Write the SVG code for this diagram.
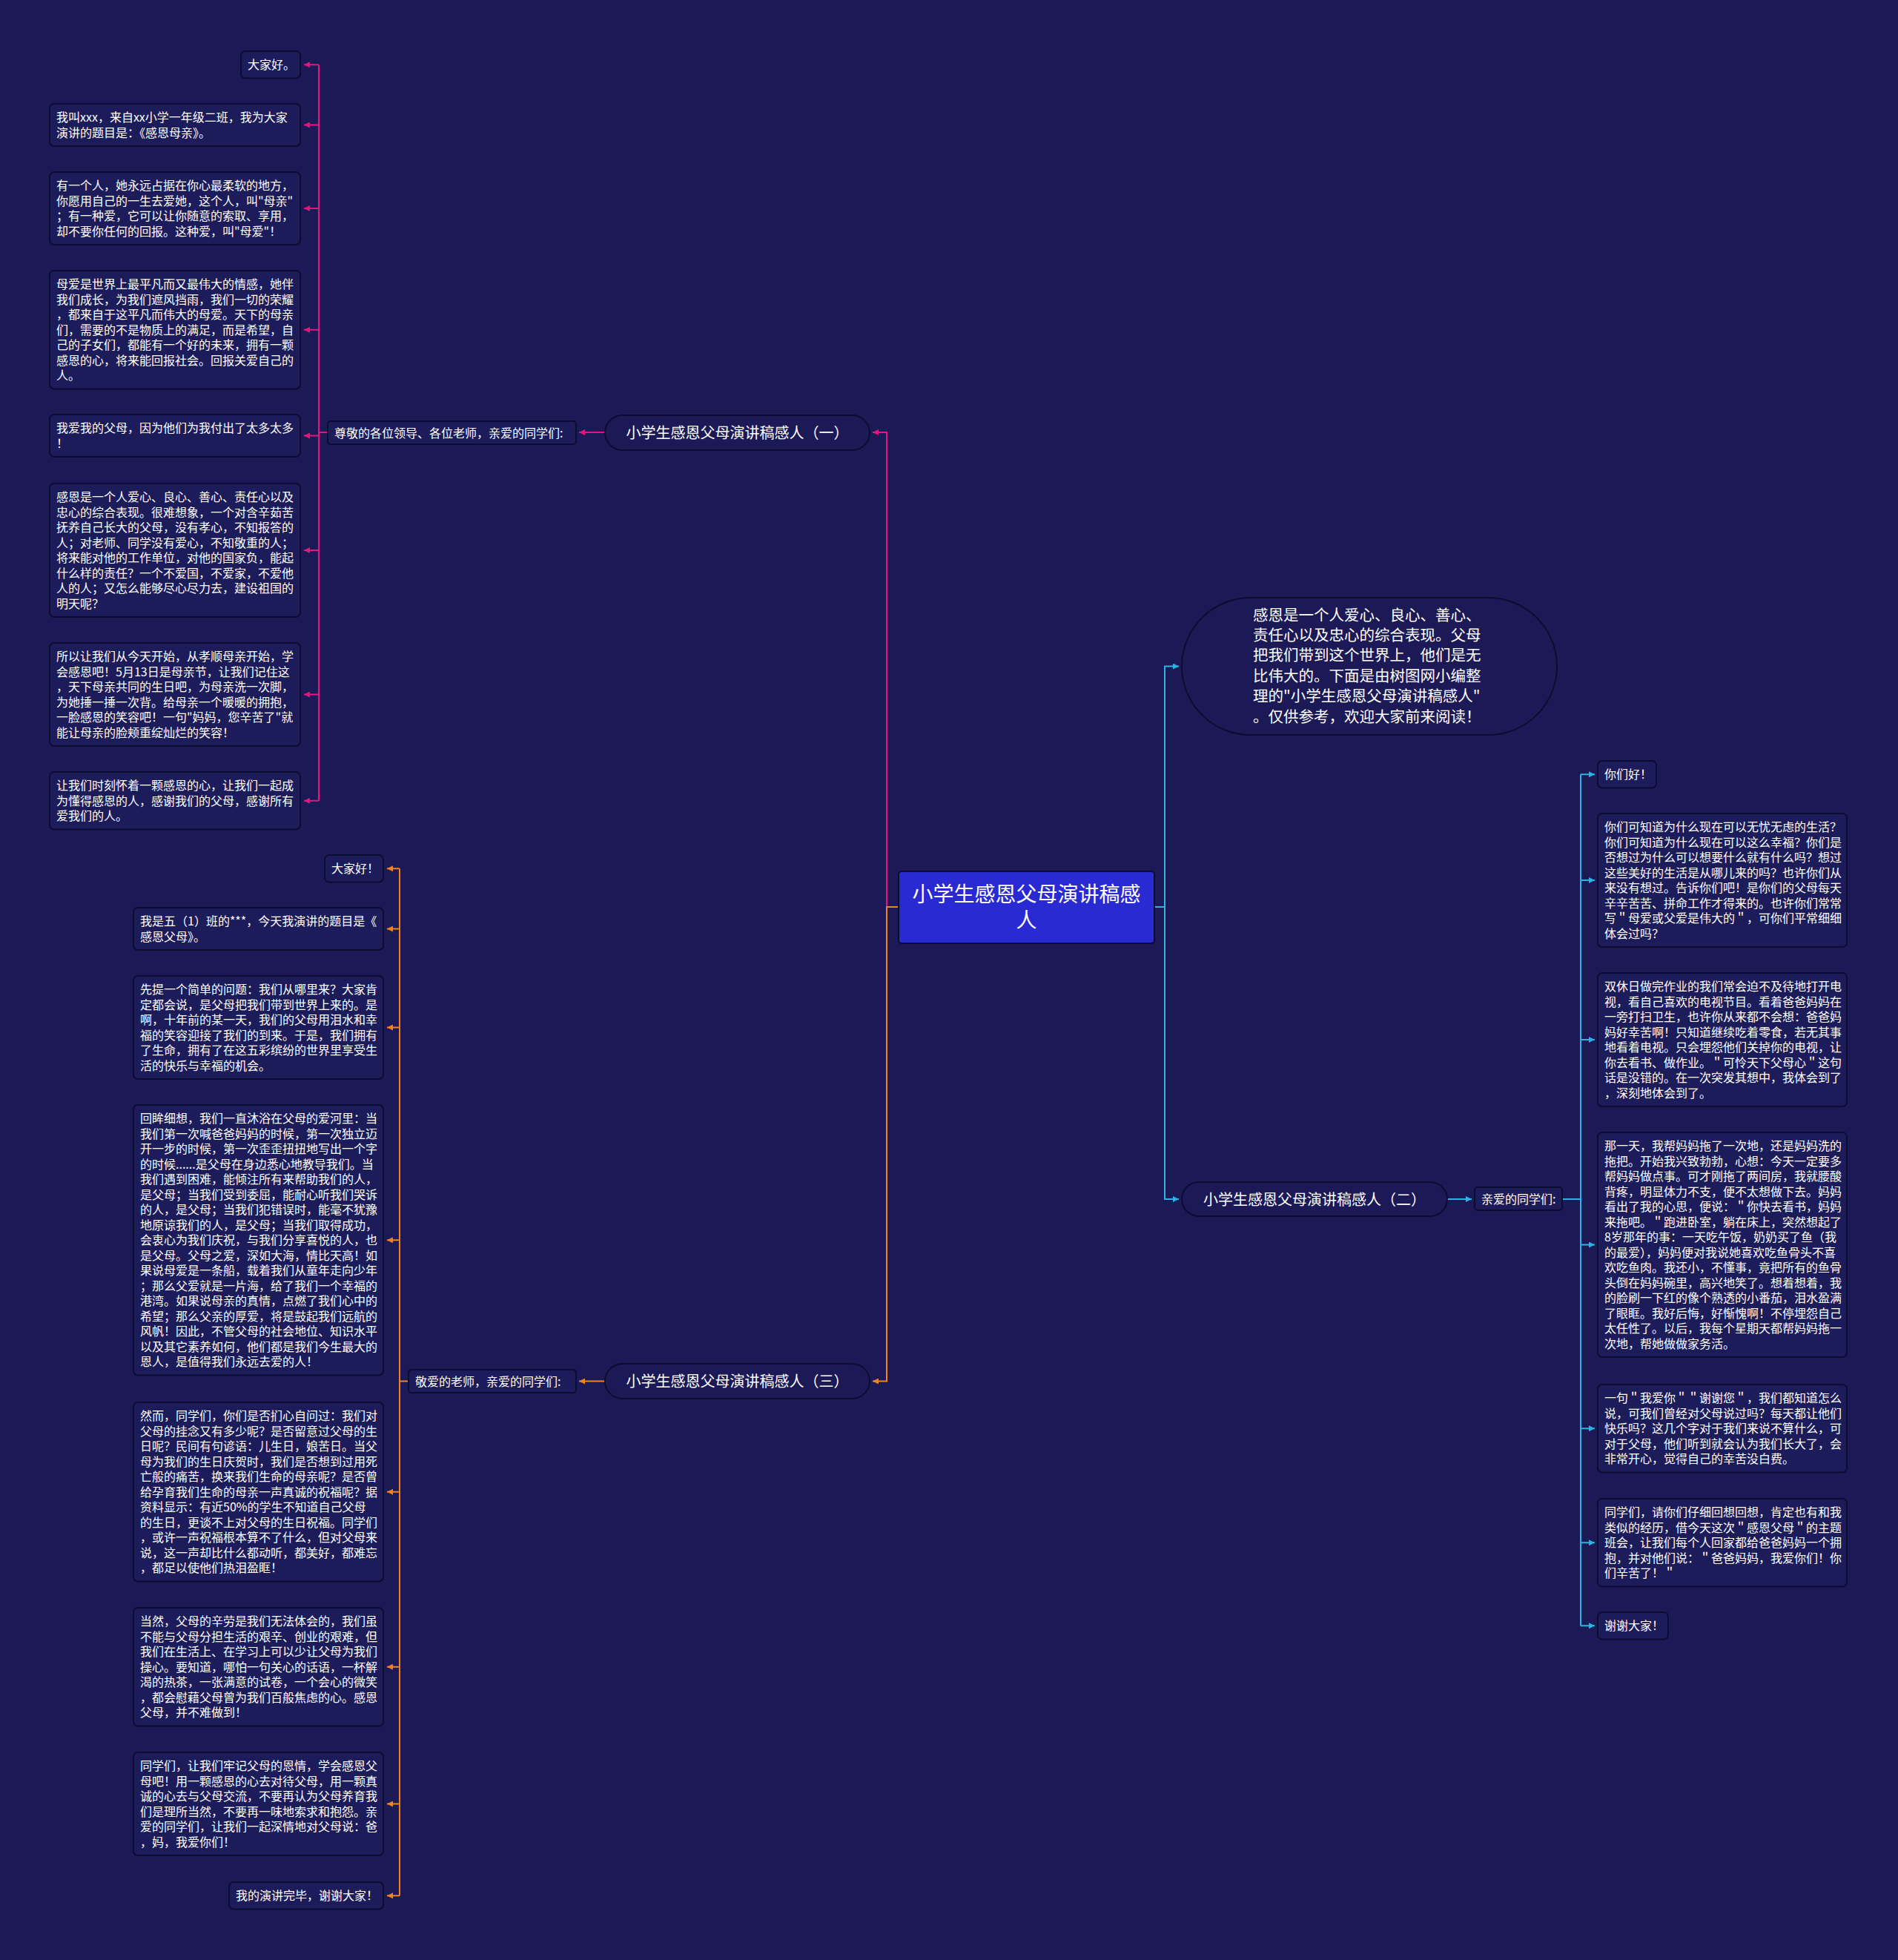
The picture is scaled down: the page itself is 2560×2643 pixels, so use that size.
<svg xmlns="http://www.w3.org/2000/svg" width="2560" height="2643" viewBox="0 0 2560 2643">
<defs>
<style>
.box{fill:#1d1c5b;stroke:#0c0b30;stroke-width:2}
.pill{fill:#1c1a56;stroke:#0c0b30;stroke-width:2}
.t{font-family:"Noto Sans CJK SC","Noto Sans",sans-serif;font-size:16px;fill:#ffffff}
.tp{font-size:20px}
.ti{font-size:20.5px}
.tc{font-size:28px}
.m{stroke:#e0187c;stroke-width:2;fill:none}
.o{stroke:#f0831e;stroke-width:2;fill:none}
.c{stroke:#2ab4e4;stroke-width:2;fill:none}
</style>
<marker id="am" markerUnits="userSpaceOnUse" viewBox="0 0 10 10" refX="10" refY="5" markerWidth="9" markerHeight="8" orient="auto"><path d="M0,0 L10,5 L0,10 z" fill="#e0187c"/></marker>
<marker id="ao" markerUnits="userSpaceOnUse" viewBox="0 0 10 10" refX="10" refY="5" markerWidth="9" markerHeight="8" orient="auto"><path d="M0,0 L10,5 L0,10 z" fill="#f0831e"/></marker>
<marker id="ac" markerUnits="userSpaceOnUse" viewBox="0 0 10 10" refX="10" refY="5" markerWidth="9" markerHeight="8" orient="auto"><path d="M0,0 L10,5 L0,10 z" fill="#2ab4e4"/></marker>
</defs>
<rect x="0" y="0" width="2560" height="2643" fill="#1c1a56"/>

<g id="connectors">
<path class="m" d="M1212,1223 H1196 V583 H1177" marker-end="url(#am)"/>
<path class="m" d="M816,583 H781" marker-end="url(#am)"/>
<path class="m" d="M442,583 H430 M430,87.25 V1079.75"/>
<path class="m" d="M430,87.25 H410" marker-end="url(#am)"/>
<path class="m" d="M430,168.5 H410" marker-end="url(#am)"/>
<path class="m" d="M430,281 H410" marker-end="url(#am)"/>
<path class="m" d="M430,444.75 H410" marker-end="url(#am)"/>
<path class="m" d="M430,587.5 H410" marker-end="url(#am)"/>
<path class="m" d="M430,742 H410" marker-end="url(#am)"/>
<path class="m" d="M430,936.5 H410" marker-end="url(#am)"/>
<path class="m" d="M430,1079.75 H410" marker-end="url(#am)"/>

<path class="o" d="M1212,1223 H1196 V1862.5 H1177" marker-end="url(#ao)"/>
<path class="o" d="M816,1862.5 H781" marker-end="url(#ao)"/>
<path class="o" d="M551,1862.5 H539 M539,1171.25 V2556.25"/>
<path class="o" d="M539,1171.25 H522" marker-end="url(#ao)"/>
<path class="o" d="M539,1252.5 H522" marker-end="url(#ao)"/>
<path class="o" d="M539,1385.5 H522" marker-end="url(#ao)"/>
<path class="o" d="M539,1672.25 H522" marker-end="url(#ao)"/>
<path class="o" d="M539,2011.75 H522" marker-end="url(#ao)"/>
<path class="o" d="M539,2247.75 H522" marker-end="url(#ao)"/>
<path class="o" d="M539,2432.5 H522" marker-end="url(#ao)"/>
<path class="o" d="M539,2556.25 H522" marker-end="url(#ao)"/>

<path class="c" d="M1557,1223 H1571 V898.5 H1590" marker-end="url(#ac)"/>
<path class="c" d="M1557,1223 H1571 V1617 H1590" marker-end="url(#ac)"/>
<path class="c" d="M1952,1617 H1985" marker-end="url(#ac)"/>
<path class="c" d="M2107,1617 H2132 M2132,1044.25 V2192.25"/>
<path class="c" d="M2132,1044.25 H2151" marker-end="url(#ac)"/>
<path class="c" d="M2132,1187 H2151" marker-end="url(#ac)"/>
<path class="c" d="M2132,1402 H2151" marker-end="url(#ac)"/>
<path class="c" d="M2132,1678.5 H2151" marker-end="url(#ac)"/>
<path class="c" d="M2132,1926.25 H2151" marker-end="url(#ac)"/>
<path class="c" d="M2132,2080.25 H2151" marker-end="url(#ac)"/>
<path class="c" d="M2132,2192.25 H2151" marker-end="url(#ac)"/>
</g>

<g id="center">
<rect x="1212" y="1175" width="345" height="97" rx="4" fill="#2a2ad2" stroke="#0c0b30" stroke-width="2"/>
<text class="t tc" text-anchor="middle" x="1384.5" y="1215.6">小学生感恩父母演讲稿感<tspan x="1384.5" dy="35">人</tspan></text>
</g>

<g id="intro">
<rect class="pill" x="1594" y="806" width="506" height="185" rx="92.5"/>
<text class="t ti" x="1690" y="836.6">感恩是一个人爱心、良心、善心、<tspan x="1690" dy="27.4">责任心以及忠心的综合表现。父母</tspan><tspan x="1690" dy="27.4">把我们带到这个世界上，他们是无</tspan><tspan x="1690" dy="27.4">比伟大的。下面是由树图网小编整</tspan><tspan x="1690" dy="27.4">理的"小学生感恩父母演讲稿感人"</tspan><tspan x="1690" dy="27.4">。仅供参考，欢迎大家前来阅读！</tspan></text>
</g>

<g id="topic1">
<rect class="pill" x="816" y="560" width="357" height="47" rx="23.5"/>
<text class="t tp" text-anchor="middle" x="994.5" y="590.5">小学生感恩父母演讲稿感人（一）</text>
</g>
<g id="label1">
<rect class="box" x="442" y="568" width="335" height="31" rx="4"/>
<text class="t" x="451" y="589.5">尊敬的各位领导、各位老师，亲爱的同学们:</text>
</g>

<g id="topic2">
<rect class="pill" x="1594" y="1594" width="358" height="46" rx="23"/>
<text class="t tp" text-anchor="middle" x="1773" y="1624.5">小学生感恩父母演讲稿感人（二）</text>
</g>
<g id="label2">
<rect class="box" x="1989" y="1601" width="118" height="31" rx="4"/>
<text class="t" x="1998" y="1622.5">亲爱的同学们:</text>
</g>

<g id="topic3">
<rect class="pill" x="816" y="1839" width="357" height="47" rx="23.5"/>
<text class="t tp" text-anchor="middle" x="994.5" y="1870">小学生感恩父母演讲稿感人（三）</text>
</g>
<g id="label3">
<rect class="box" x="551" y="1847" width="226" height="31" rx="4"/>
<text class="t" x="560" y="1869">敬爱的老师，亲爱的同学们:</text>
</g>

<g id="b1n1"><rect class="box" x="325" y="69" width="80" height="36.5" rx="6"/>
<text class="t" x="334" y="93.25">大家好。</text></g>
<g id="b1n2"><rect class="box" x="67" y="140" width="338" height="57" rx="6"/>
<text class="t" x="76" y="164.25">我叫xxx，来自xx小学一年级二班，我为大家<tspan x="76" dy="20.5">演讲的题目是：《感恩母亲》。</tspan></text></g>
<g id="b1n3"><rect class="box" x="67" y="232" width="338" height="98" rx="6"/>
<text class="t" x="76" y="256.25">有一个人，她永远占据在你心最柔软的地方，<tspan x="76" dy="20.5">你愿用自己的一生去爱她，这个人，叫"母亲"</tspan><tspan x="76" dy="20.5">；有一种爱，它可以让你随意的索取、享用，</tspan><tspan x="76" dy="20.5">却不要你任何的回报。这种爱，叫"母爱"！</tspan></text></g>
<g id="b1n4"><rect class="box" x="67" y="365" width="338" height="159.5" rx="6"/>
<text class="t" x="76" y="389.25">母爱是世界上最平凡而又最伟大的情感，她伴<tspan x="76" dy="20.5">我们成长，为我们遮风挡雨，我们一切的荣耀</tspan><tspan x="76" dy="20.5">，都来自于这平凡而伟大的母爱。天下的母亲</tspan><tspan x="76" dy="20.5">们，需要的不是物质上的满足，而是希望，自</tspan><tspan x="76" dy="20.5">己的子女们，都能有一个好的未来，拥有一颗</tspan><tspan x="76" dy="20.5">感恩的心，将来能回报社会。回报关爱自己的</tspan><tspan x="76" dy="20.5">人。</tspan></text></g>
<g id="b1n5"><rect class="box" x="67" y="559" width="338" height="57" rx="6"/>
<text class="t" x="76" y="583.25">我爱我的父母，因为他们为我付出了太多太多<tspan x="76" dy="20.5">！</tspan></text></g>
<g id="b1n6"><rect class="box" x="67" y="652" width="338" height="180" rx="6"/>
<text class="t" x="76" y="676.25">感恩是一个人爱心、良心、善心、责任心以及<tspan x="76" dy="20.5">忠心的综合表现。很难想象，一个对含辛茹苦</tspan><tspan x="76" dy="20.5">抚养自己长大的父母，没有孝心，不知报答的</tspan><tspan x="76" dy="20.5">人；对老师、同学没有爱心，不知敬重的人；</tspan><tspan x="76" dy="20.5">将来能对他的工作单位，对他的国家负，能起</tspan><tspan x="76" dy="20.5">什么样的责任？一个不爱国，不爱家，不爱他</tspan><tspan x="76" dy="20.5">人的人；又怎么能够尽心尽力去，建设祖国的</tspan><tspan x="76" dy="20.5">明天呢？</tspan></text></g>
<g id="b1n7"><rect class="box" x="67" y="867" width="338" height="139" rx="6"/>
<text class="t" x="76" y="891.25">所以让我们从今天开始，从孝顺母亲开始，学<tspan x="76" dy="20.5">会感恩吧！5月13日是母亲节，让我们记住这</tspan><tspan x="76" dy="20.5">，天下母亲共同的生日吧，为母亲洗一次脚，</tspan><tspan x="76" dy="20.5">为她捶一捶一次背。给母亲一个暖暖的拥抱，</tspan><tspan x="76" dy="20.5">一脸感恩的笑容吧！一句"妈妈，您辛苦了"就</tspan><tspan x="76" dy="20.5">能让母亲的脸颊重绽灿烂的笑容！</tspan></text></g>
<g id="b1n8"><rect class="box" x="67" y="1041" width="338" height="77.5" rx="6"/>
<text class="t" x="76" y="1065.25">让我们时刻怀着一颗感恩的心，让我们一起成<tspan x="76" dy="20.5">为懂得感恩的人，感谢我们的父母，感谢所有</tspan><tspan x="76" dy="20.5">爱我们的人。</tspan></text></g>

<g id="b3n1"><rect class="box" x="438" y="1153" width="79" height="36.5" rx="6"/>
<text class="t" x="447" y="1177.25">大家好！</text></g>
<g id="b3n2"><rect class="box" x="180" y="1224" width="337" height="57" rx="6"/>
<text class="t" x="189" y="1248.25">我是五（1）班的***，今天我演讲的题目是《<tspan x="189" dy="20.5">感恩父母》。</tspan></text></g>
<g id="b3n3"><rect class="box" x="180" y="1316" width="337" height="139" rx="6"/>
<text class="t" x="189" y="1340.25">先提一个简单的问题：我们从哪里来？大家肯<tspan x="189" dy="20.5">定都会说，是父母把我们带到世界上来的。是</tspan><tspan x="189" dy="20.5">啊，十年前的某一天，我们的父母用泪水和幸</tspan><tspan x="189" dy="20.5">福的笑容迎接了我们的到来。于是，我们拥有</tspan><tspan x="189" dy="20.5">了生命，拥有了在这五彩缤纷的世界里享受生</tspan><tspan x="189" dy="20.5">活的快乐与幸福的机会。</tspan></text></g>
<g id="b3n4"><rect class="box" x="180" y="1490" width="337" height="364.5" rx="6"/>
<text class="t" x="189" y="1514.25">回眸细想，我们一直沐浴在父母的爱河里：当<tspan x="189" dy="20.5">我们第一次喊爸爸妈妈的时候，第一次独立迈</tspan><tspan x="189" dy="20.5">开一步的时候，第一次歪歪扭扭地写出一个字</tspan><tspan x="189" dy="20.5">的时候......是父母在身边悉心地教导我们。当</tspan><tspan x="189" dy="20.5">我们遇到困难，能倾注所有来帮助我们的人，</tspan><tspan x="189" dy="20.5">是父母；当我们受到委屈，能耐心听我们哭诉</tspan><tspan x="189" dy="20.5">的人，是父母；当我们犯错误时，能毫不犹豫</tspan><tspan x="189" dy="20.5">地原谅我们的人，是父母；当我们取得成功，</tspan><tspan x="189" dy="20.5">会衷心为我们庆祝，与我们分享喜悦的人，也</tspan><tspan x="189" dy="20.5">是父母。父母之爱，深如大海，情比天高！如</tspan><tspan x="189" dy="20.5">果说母爱是一条船，载着我们从童年走向少年</tspan><tspan x="189" dy="20.5">；那么父爱就是一片海，给了我们一个幸福的</tspan><tspan x="189" dy="20.5">港湾。如果说母亲的真情，点燃了我们心中的</tspan><tspan x="189" dy="20.5">希望；那么父亲的厚爱，将是鼓起我们远航的</tspan><tspan x="189" dy="20.5">风帆！因此，不管父母的社会地位、知识水平</tspan><tspan x="189" dy="20.5">以及其它素养如何，他们都是我们今生最大的</tspan><tspan x="189" dy="20.5">恩人，是值得我们永远去爱的人！</tspan></text></g>
<g id="b3n5"><rect class="box" x="180" y="1891" width="337" height="241.5" rx="6"/>
<text class="t" x="189" y="1915.25">然而，同学们，你们是否扪心自问过：我们对<tspan x="189" dy="20.5">父母的挂念又有多少呢？是否留意过父母的生</tspan><tspan x="189" dy="20.5">日呢？民间有句谚语：儿生日，娘苦日。当父</tspan><tspan x="189" dy="20.5">母为我们的生日庆贺时，我们是否想到过用死</tspan><tspan x="189" dy="20.5">亡般的痛苦，换来我们生命的母亲呢？是否曾</tspan><tspan x="189" dy="20.5">给孕育我们生命的母亲一声真诚的祝福呢？据</tspan><tspan x="189" dy="20.5">资料显示：有近50%的学生不知道自己父母</tspan><tspan x="189" dy="20.5">的生日，更谈不上对父母的生日祝福。同学们</tspan><tspan x="189" dy="20.5">，或许一声祝福根本算不了什么，但对父母来</tspan><tspan x="189" dy="20.5">说，这一声却比什么都动听，都美好，都难忘</tspan><tspan x="189" dy="20.5">，都足以使他们热泪盈眶！</tspan></text></g>
<g id="b3n6"><rect class="box" x="180" y="2168" width="337" height="159.5" rx="6"/>
<text class="t" x="189" y="2192.25">当然，父母的辛劳是我们无法体会的，我们虽<tspan x="189" dy="20.5">不能与父母分担生活的艰辛、创业的艰难，但</tspan><tspan x="189" dy="20.5">我们在生活上、在学习上可以少让父母为我们</tspan><tspan x="189" dy="20.5">操心。要知道，哪怕一句关心的话语，一杯解</tspan><tspan x="189" dy="20.5">渴的热茶，一张满意的试卷，一个会心的微笑</tspan><tspan x="189" dy="20.5">，都会慰藉父母曾为我们百般焦虑的心。感恩</tspan><tspan x="189" dy="20.5">父母，并不难做到！</tspan></text></g>
<g id="b3n7"><rect class="box" x="180" y="2363" width="337" height="139" rx="6"/>
<text class="t" x="189" y="2387.25">同学们，让我们牢记父母的恩情，学会感恩父<tspan x="189" dy="20.5">母吧！用一颗感恩的心去对待父母，用一颗真</tspan><tspan x="189" dy="20.5">诚的心去与父母交流，不要再认为父母养育我</tspan><tspan x="189" dy="20.5">们是理所当然，不要再一味地索求和抱怨。亲</tspan><tspan x="189" dy="20.5">爱的同学们，让我们一起深情地对父母说：爸</tspan><tspan x="189" dy="20.5">，妈，我爱你们！</tspan></text></g>
<g id="b3n8"><rect class="box" x="309" y="2538" width="208" height="36.5" rx="6"/>
<text class="t" x="318" y="2562.25">我的演讲完毕，谢谢大家！</text></g>

<g id="b2n1"><rect class="box" x="2155" y="1026" width="79" height="36.5" rx="6"/>
<text class="t" x="2164" y="1050.25">你们好！</text></g>
<g id="b2n2"><rect class="box" x="2155" y="1097" width="336" height="180" rx="6"/>
<text class="t" x="2164" y="1121.25">你们可知道为什么现在可以无忧无虑的生活？<tspan x="2164" dy="20.5">你们可知道为什么现在可以这么幸福？你们是</tspan><tspan x="2164" dy="20.5">否想过为什么可以想要什么就有什么吗？想过</tspan><tspan x="2164" dy="20.5">这些美好的生活是从哪儿来的吗？也许你们从</tspan><tspan x="2164" dy="20.5">来没有想过。告诉你们吧！是你们的父母每天</tspan><tspan x="2164" dy="20.5">辛辛苦苦、拼命工作才得来的。也许你们常常</tspan><tspan x="2164" dy="20.5">写＂母爱或父爱是伟大的＂，可你们平常细细</tspan><tspan x="2164" dy="20.5">体会过吗？</tspan></text></g>
<g id="b2n3"><rect class="box" x="2155" y="1312" width="336" height="180" rx="6"/>
<text class="t" x="2164" y="1336.25">双休日做完作业的我们常会迫不及待地打开电<tspan x="2164" dy="20.5">视，看自己喜欢的电视节目。看着爸爸妈妈在</tspan><tspan x="2164" dy="20.5">一旁打扫卫生，也许你从来都不会想：爸爸妈</tspan><tspan x="2164" dy="20.5">妈好幸苦啊！只知道继续吃着零食，若无其事</tspan><tspan x="2164" dy="20.5">地看着电视。只会埋怨他们关掉你的电视，让</tspan><tspan x="2164" dy="20.5">你去看书、做作业。＂可怜天下父母心＂这句</tspan><tspan x="2164" dy="20.5">话是没错的。在一次突发其想中，我体会到了</tspan><tspan x="2164" dy="20.5">，深刻地体会到了。</tspan></text></g>
<g id="b2n4"><rect class="box" x="2155" y="1527" width="336" height="303" rx="6"/>
<text class="t" x="2164" y="1551.25">那一天，我帮妈妈拖了一次地，还是妈妈洗的<tspan x="2164" dy="20.5">拖把。开始我兴致勃勃，心想：今天一定要多</tspan><tspan x="2164" dy="20.5">帮妈妈做点事。可才刚拖了两间房，我就腰酸</tspan><tspan x="2164" dy="20.5">背疼，明显体力不支，便不太想做下去。妈妈</tspan><tspan x="2164" dy="20.5">看出了我的心思，便说：＂你快去看书，妈妈</tspan><tspan x="2164" dy="20.5">来拖吧。＂跑进卧室，躺在床上，突然想起了</tspan><tspan x="2164" dy="20.5">8岁那年的事：一天吃午饭，奶奶买了鱼（我</tspan><tspan x="2164" dy="20.5">的最爱），妈妈便对我说她喜欢吃鱼骨头不喜</tspan><tspan x="2164" dy="20.5">欢吃鱼肉。我还小，不懂事，竟把所有的鱼骨</tspan><tspan x="2164" dy="20.5">头倒在妈妈碗里，高兴地笑了。想着想着，我</tspan><tspan x="2164" dy="20.5">的脸刷一下红的像个熟透的小番茄，泪水盈满</tspan><tspan x="2164" dy="20.5">了眼眶。我好后悔，好惭愧啊！不停埋怨自己</tspan><tspan x="2164" dy="20.5">太任性了。以后，我每个星期天都帮妈妈拖一</tspan><tspan x="2164" dy="20.5">次地，帮她做做家务活。</tspan></text></g>
<g id="b2n5"><rect class="box" x="2155" y="1867" width="336" height="118.5" rx="6"/>
<text class="t" x="2164" y="1891.25">一句＂我爱你＂＂谢谢您＂，我们都知道怎么<tspan x="2164" dy="20.5">说，可我们曾经对父母说过吗？每天都让他们</tspan><tspan x="2164" dy="20.5">快乐吗？这几个字对于我们来说不算什么，可</tspan><tspan x="2164" dy="20.5">对于父母，他们听到就会认为我们长大了，会</tspan><tspan x="2164" dy="20.5">非常开心，觉得自己的幸苦没白费。</tspan></text></g>
<g id="b2n6"><rect class="box" x="2155" y="2021" width="336" height="118.5" rx="6"/>
<text class="t" x="2164" y="2045.25">同学们，请你们仔细回想回想，肯定也有和我<tspan x="2164" dy="20.5">类似的经历，借今天这次＂感恩父母＂的主题</tspan><tspan x="2164" dy="20.5">班会，让我们每个人回家都给爸爸妈妈一个拥</tspan><tspan x="2164" dy="20.5">抱，并对他们说：＂爸爸妈妈，我爱你们！你</tspan><tspan x="2164" dy="20.5">们辛苦了！＂</tspan></text></g>
<g id="b2n7"><rect class="box" x="2155" y="2174" width="95" height="36.5" rx="6"/>
<text class="t" x="2164" y="2198.25">谢谢大家！</text></g>
</svg>
